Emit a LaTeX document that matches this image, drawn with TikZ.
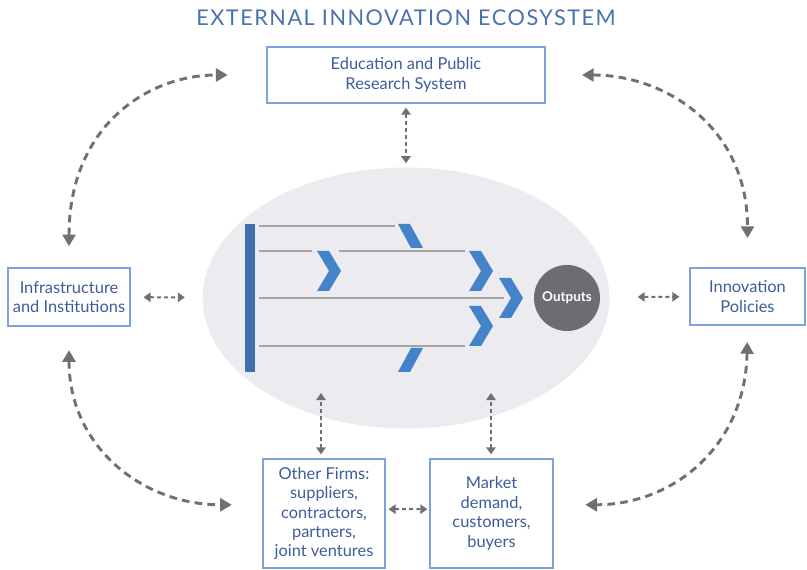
\documentclass[tikz,border=0pt]{standalone}
\usepackage{fontspec}
\setmainfont{Lato}
\usetikzlibrary{shapes.geometric,arrows.meta}

\definecolor{titleBlue}{HTML}{4A72AE}
\definecolor{boxText}{HTML}{3E5C9A}
\definecolor{boxLine}{HTML}{7EA3DB}
\definecolor{ecoGray}{HTML}{ECEBEF}
\definecolor{barBlue}{HTML}{3F6FAE}
\definecolor{chevBlue}{HTML}{4383C9}
\definecolor{ribGray}{HTML}{A3A3A3}
\definecolor{outGray}{HTML}{6C6D70}
\definecolor{arrowGray}{HTML}{707070}

\tikzset{
chev/.pic={\fill[chevBlue] (-24,-20) -- (-12,-20) -- (0,0) -- (-12,20) -- (-24,20) -- (-12,0) -- cycle;}
}

\begin{document}
\begin{tikzpicture}[x=0.03cm, y=-0.03cm,
box/.style={rectangle, draw=boxLine, line width=1.1pt, text=boxText, align=center, inner sep=0pt, font=\fontsize{14}{16.6}\selectfont},
rib/.style={draw=ribGray, line width=1.6pt},
duplex/.style={draw=arrowGray, line width=1.7pt, dash pattern=on 3.4pt off 2.6pt, {Triangle[length=6pt,width=8pt]}-{Triangle[length=6pt,width=8pt]}},
orbit/.style={draw=arrowGray, line width=2.5pt, dash pattern=on 6.5pt off 4.5pt, {Triangle[length=10pt,width=11pt]}-{Triangle[length=10pt,width=11pt]}}
]
\useasboundingbox (0,0) rectangle (807,570);

\node[text=titleBlue, font=\addfontfeature{LetterSpace=7}\fontsize{18.5}{22}\selectfont] (title) at (406,18) {EXTERNAL INNOVATION ECOSYSTEM};

% firm in the middle
\node[ellipse, fill=ecoGray, inner sep=0pt, minimum width=12.2cm, minimum height=7.83cm] (eco) at (406,298) {};
\fill[barBlue] (245,224) rectangle (255,372);
\draw[rib] (259,226) -- (395,226);
\draw[rib] (259,251) -- (312,251);
\draw[rib] (339,251) -- (465,251);
\draw[rib] (259,298) -- (504,298);
\draw[rib] (259,346) -- (465,346);
\fill[chevBlue] (398,224) -- (410,224) -- (423,248) -- (411,248) -- cycle;
\fill[chevBlue] (411,348) -- (423,348) -- (410,372) -- (398,372) -- cycle;
\pic at (341,271) {chev};
\pic at (493,271) {chev};
\pic at (523,298) {chev};
\pic at (493,326) {chev};
\node[circle, fill=outGray, minimum size=1.98cm, inner sep=0pt, text=white, font=\bfseries\fontsize{11.5}{13}\selectfont] (out) at (567,298) {Outputs};

% actors around
\node[box, minimum width=8.34cm, minimum height=1.68cm] (edu) at (406,75) {Education and Public\\Research System};
\node[box, minimum width=3.66cm, minimum height=1.74cm] (infra) at (69,297) {Infrastructure\\and Institutions};
\node[box, minimum width=3.45cm, minimum height=1.71cm] (policy) at (747.5,296.5) {Innovation\\Policies};
\node[box, minimum width=3.66cm, minimum height=3.27cm] (firms) at (324,513.5) {Other Firms:\\suppliers,\\contractors,\\partners,\\joint ventures};
\node[box, minimum width=3.69cm, minimum height=3.27cm] (market) at (491.5,513.5) {Market\\demand,\\customers,\\buyers};

\coordinate (firmsIn) at (321,393);
\coordinate (marketIn) at (491,393);

% links
\draw[duplex, shorten <=3.4pt, shorten >=3.4pt] (edu) -- (eco);
\draw[duplex, shorten <=11pt, shorten >=15pt] (infra) -- (eco);
\draw[duplex, shorten <=24pt, shorten >=8.5pt] (eco) -- (policy);
\draw[duplex, shorten <=3.4pt] (firms.north -| firmsIn) -- (firmsIn);
\draw[duplex, shorten <=3.4pt] (market.north -| marketIn) -- (marketIn);
\draw[duplex, shorten <=2.5pt, shorten >=1.7pt] (firms.4) -- (market.176);

\draw[orbit, shorten <=18pt, shorten >=33pt] (infra.north) .. controls +(0,-140) and +(-120,0) .. (edu.west);
\draw[orbit, shorten <=31pt, shorten >=25pt] (edu.east) .. controls +(120,0) and +(0,-140) .. (policy.north);
\draw[orbit, shorten <=20pt, shorten >=26pt] (infra.south) .. controls +(0,120) and +(-120,0) .. (firms.172);
\draw[orbit, shorten <=14pt, shorten >=27pt] (policy.south) .. controls +(-2,120) and +(120,0) .. (market.8);
\end{tikzpicture}
\end{document}
